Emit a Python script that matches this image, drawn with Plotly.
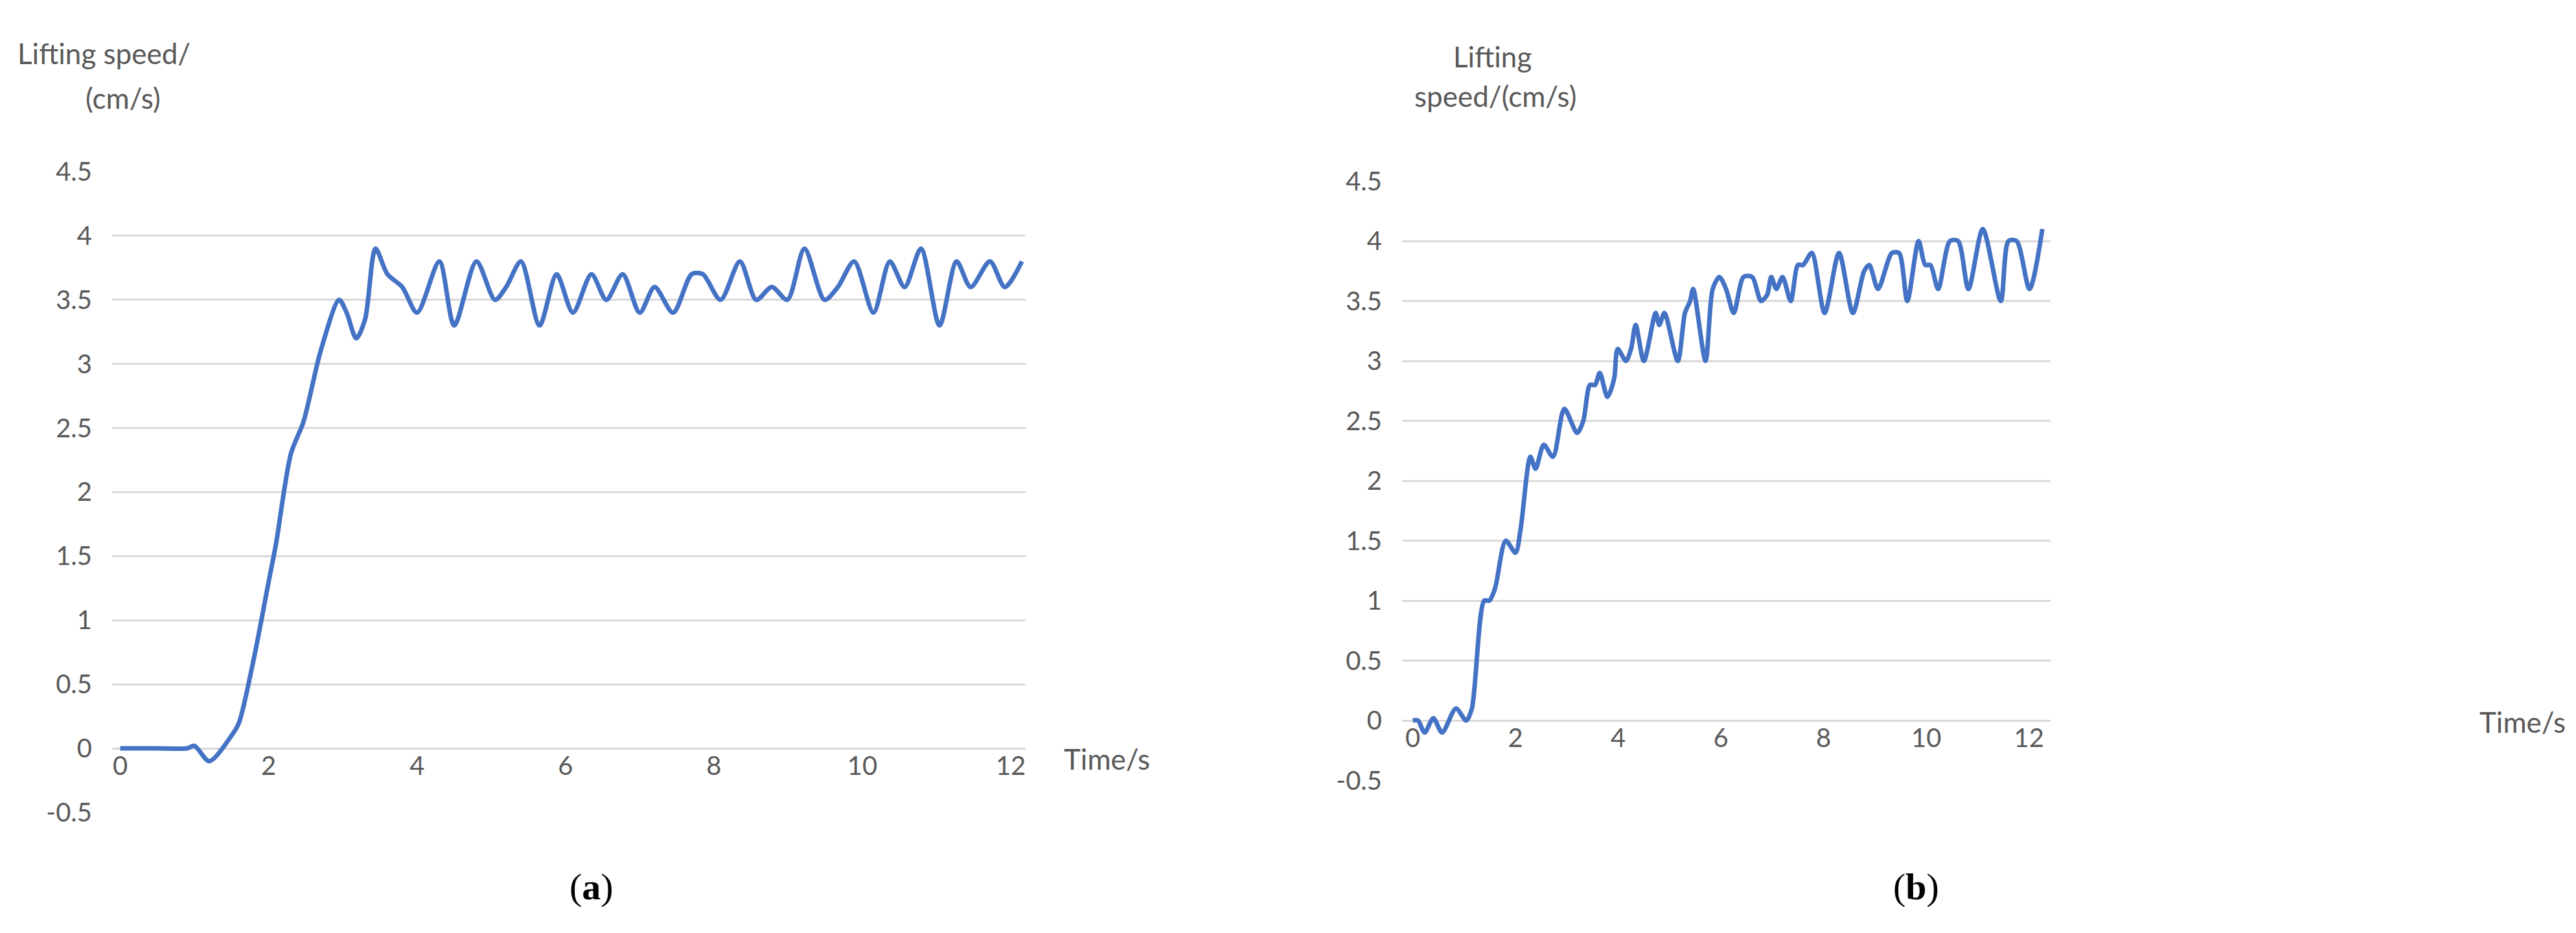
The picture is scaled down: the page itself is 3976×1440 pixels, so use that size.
import plotly.graph_objects as go

ta = [0,0.5,0.9,1.0,1.2,1.5,1.6,1.8,2.0,2.1,2.3,2.47,2.7,2.95,3.05,3.18,3.3,3.44,3.6,3.8,4.0,4.3,4.5,4.8,5.05,5.2,5.4,5.65,5.88,6.1,6.35,6.55,6.77,7.0,7.2,7.45,7.7,7.85,8.09,8.35,8.57,8.78,8.99,9.22,9.49,9.67,9.89,10.15,10.37,10.57,10.79,11.04,11.27,11.46,11.72,11.92,12.15]
va = [0,0,0,0.02,-0.1,0.1,0.2,0.7,1.3,1.6,2.3,2.55,3.1,3.5,3.4,3.2,3.35,3.9,3.7,3.6,3.4,3.8,3.3,3.8,3.5,3.6,3.8,3.3,3.7,3.4,3.7,3.5,3.7,3.4,3.6,3.4,3.7,3.7,3.5,3.8,3.5,3.6,3.5,3.9,3.5,3.6,3.8,3.4,3.8,3.6,3.9,3.3,3.8,3.6,3.8,3.6,3.8]

tb = [0,0.1,0.23,0.4,0.57,0.84,1.04,1.15,1.39,1.49,1.6,1.81,2.0,2.1,2.29,2.39,2.55,2.73,2.95,3.2,3.32,3.45,3.55,3.64,3.79,3.92,3.99,4.15,4.25,4.34,4.5,4.73,4.8,4.9,5.16,5.3,5.4,5.46,5.7,5.84,5.97,6.1,6.25,6.44,6.61,6.78,6.9,6.98,7.08,7.2,7.36,7.5,7.6,7.77,8.02,8.3,8.57,8.79,8.89,9.06,9.33,9.47,9.63,9.85,9.98,10.08,10.23,10.46,10.62,10.82,11.1,11.45,11.6,11.76,12.01,12.26]
vb = [0,0,-0.1,0.02,-0.1,0.1,0.0,0.1,1.0,1.0,1.1,1.5,1.4,1.6,2.2,2.1,2.3,2.2,2.6,2.4,2.5,2.8,2.8,2.9,2.7,2.85,3.1,3.0,3.1,3.3,3.0,3.4,3.3,3.4,3.0,3.4,3.5,3.6,3.0,3.6,3.7,3.6,3.4,3.7,3.7,3.5,3.55,3.7,3.6,3.7,3.5,3.8,3.8,3.9,3.4,3.9,3.4,3.75,3.8,3.6,3.9,3.9,3.5,4.0,3.8,3.8,3.6,4.0,4.0,3.6,4.1,3.5,4.0,4.0,3.6,4.1]

yticks = [-0.5,0,0.5,1,1.5,2,2.5,3,3.5,4,4.5]
ytext = ["-0.5","0","0.5","1","1.5","2","2.5","3","3.5","4","4.5"]
xticks = [0,2,4,6,8,10,12]

W, H = 3976, 1440
gray = "#595959"
tf = dict(family="Lato, Open Sans, sans-serif", size=40, color=gray)
fig = go.Figure()
line = dict(color="#4472C4", width=7, shape="spline", smoothing=0.8)
fig.add_trace(go.Scatter(x=ta, y=va, mode="lines", line=line, xaxis="x", yaxis="y", showlegend=False))
fig.add_trace(go.Scatter(x=tb, y=vb, mode="lines", line=line, xaxis="x2", yaxis="y2", showlegend=False))

ya = [1-1263/H, 1-240/H]
yb = [1-1212/H, 1-255/H]
common_y = dict(range=[-0.5, 4.5], tickvals=yticks, ticktext=ytext, showgrid=True, gridcolor="#d9d9d9",
                gridwidth=3, zeroline=False, showline=False, tickfont=tf, ticks="", ticklabelstandoff=30)
common_x = dict(tickvals=xticks, showgrid=False, zeroline=False, showline=False, tickfont=tf, ticks="")
fig.update_layout(
    width=W, height=H, margin=dict(l=0, r=0, t=0, b=0),
    paper_bgcolor="white", plot_bgcolor="white",
    xaxis=dict(domain=[165/W, 1575/W], range=[-0.11, 12.2], anchor="free", position=ya[0]+0.1*(ya[1]-ya[0]), **common_x),
    yaxis=dict(domain=ya, anchor="x", **common_y),
    xaxis2=dict(domain=[2156/W, 3157/W], range=[-0.21, 12.42], anchor="free", position=yb[0]+0.1*(yb[1]-yb[0]), **common_x),
    yaxis2=dict(domain=yb, anchor="x2", **common_y),
)
af = dict(family="Lato, Open Sans, sans-serif", size=44, color=gray)
def ann(x, y, t, font=af):
    fig.add_annotation(x=x/W, y=1-y/H, xref="paper", yref="paper", text=t, showarrow=False, font=font,
                       xanchor="center", yanchor="middle")
ann(152, 51, "Lifting speed/")
ann(182, 122, "(cm/s)")
ann(2295, 56, "Lifting")
ann(2300, 119, "speed/(cm/s)")
ann(1700, 1177, "Time/s")
ann(3885, 1118, "Time/s")
sf = dict(family="Liberation Serif, serif", size=58, color="black")
ann(905, 1382, "(<b>a</b>)", sf)
ann(2949, 1382, "(<b>b</b>)", sf)
fig.write_html("out.html")
